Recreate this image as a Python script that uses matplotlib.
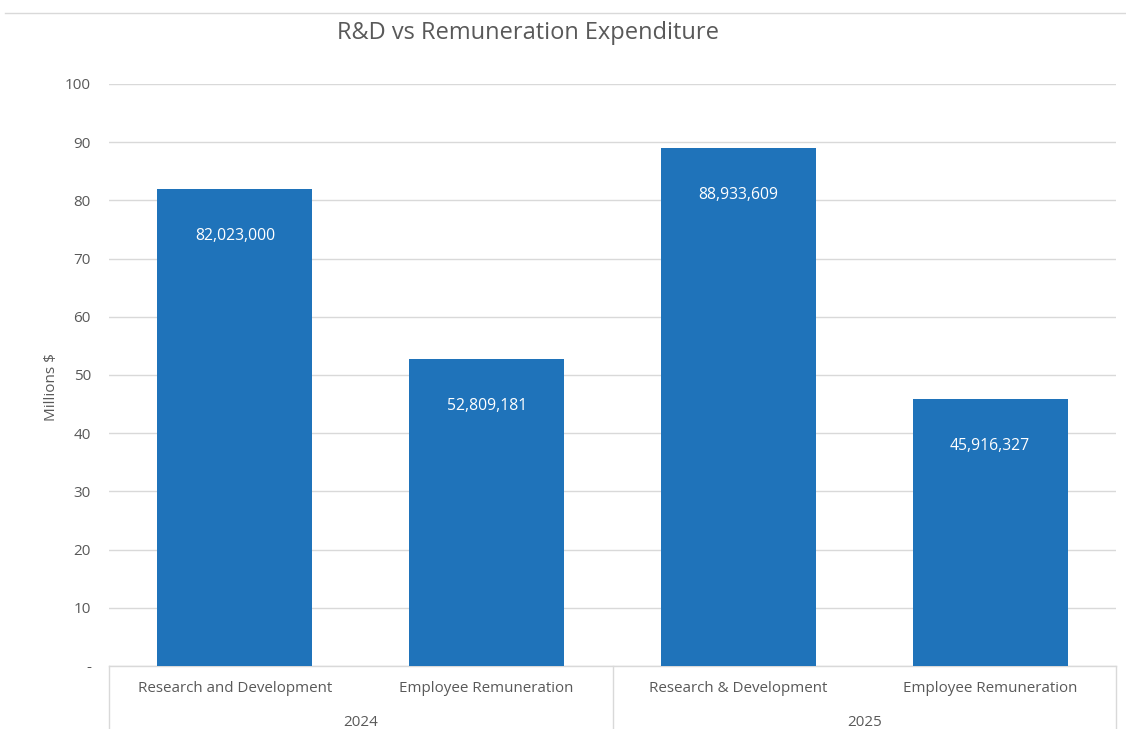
import matplotlib
matplotlib.use("Agg")
import matplotlib.pyplot as plt
from matplotlib.lines import Line2D

plt.rcParams['font.family'] = ['Open Sans', 'DejaVu Sans']

categories = ["Research and Development", "Employee Remuneration",
              "Research & Development", "Employee Remuneration"]
years = ["2024", "2025"]
values = [82.023000, 52.809181, 88.933609, 45.916327]
labels = ["82,023,000", "52,809,181", "88,933,609", "45,916,327"]
yticks = [0, 10, 20, 30, 40, 50, 60, 70, 80, 90, 100]
yticklabels = ["-", "10", "20", "30", "40", "50", "60", "70", "80", "90", "100"]

W, H = 1126, 729
fig = plt.figure(figsize=(W / 100, H / 100), dpi=100)
L, R, T, B = 109, 1116, 84, 666
ax = fig.add_axes([L / W, 1 - B / H, (R - L) / W, (B - T) / H])

bar_color = "#1f73ba"
grid_color = "#d9d9d9"
text_color = "#595959"

x = list(range(len(categories)))
bars = ax.bar(x, values, width=0.615, color=bar_color, zorder=3)
ax.set_xlim(-0.5, len(categories) - 0.5)
ax.set_ylim(0, 100)
ax.set_yticks(yticks)
ax.set_yticklabels(yticklabels, color=text_color, fontsize=11)
ax.tick_params(axis='y', length=0, pad=13)
ax.set_xticks([])
ax.grid(axis='y', color=grid_color, linewidth=1.0, zorder=0)
for s in ["top", "right", "left"]:
    ax.spines[s].set_visible(False)
ax.spines["bottom"].set_color(grid_color)
ax.spines["bottom"].set_linewidth(1.0)

for rect, lab in zip(bars, labels):
    ax.annotate(lab, (rect.get_x() + rect.get_width() / 2, rect.get_height()),
                xytext=(0, -47), textcoords='offset pixels',
                ha='center', va='center', color='white', fontsize=11.3, zorder=4)

# category labels
for i, c in enumerate(categories):
    ax.text(i, -0.038, c, transform=ax.get_xaxis_transform(), ha='center', va='center',
            color=text_color, fontsize=10.9)
# year labels
for j, yname in enumerate(years):
    ax.text(2 * j + 0.5, -0.097, yname, transform=ax.get_xaxis_transform(), ha='center',
            va='center', color=text_color, fontsize=10.9)

# multi-level separators
for xv in [-0.5, 1.5, 3.5]:
    ax.add_line(Line2D([xv, xv], [0, -0.2], transform=ax.get_xaxis_transform(),
                       color=grid_color, linewidth=1.0, clip_on=False))

ax.set_ylabel("Millions $", color=text_color, fontsize=11)
ax.yaxis.set_label_coords((59 - L) / (R - L), 0.48)

fig.text(528 / W, 1 - 33 / H, "R&D vs Remuneration Expenditure", ha='center', va='center',
         color=text_color, fontsize=17)

# chart border line at top
fig.add_artist(Line2D([5 / W, 1.0], [1 - 13 / H, 1 - 13 / H], color=grid_color, linewidth=1.0))

fig.savefig("out.png", dpi=100, facecolor="white")
